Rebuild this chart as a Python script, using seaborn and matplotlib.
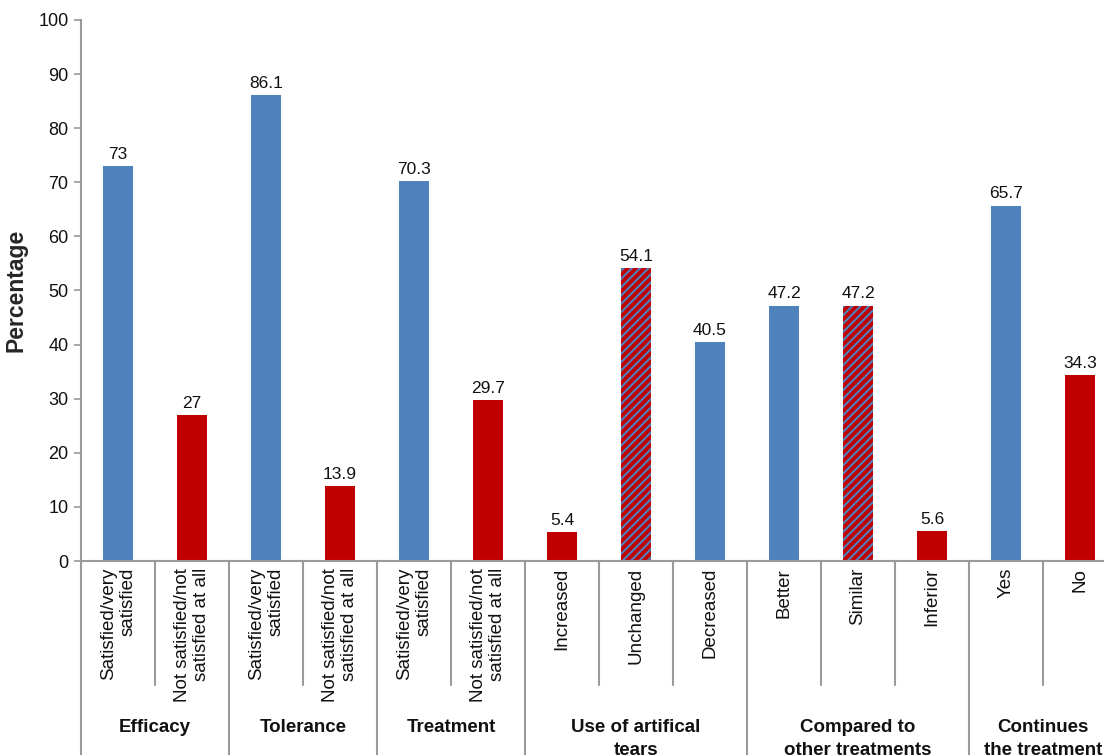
import matplotlib
matplotlib.use("Agg")
import matplotlib.pyplot as plt
import seaborn as sns
import numpy as np
import pandas as pd
from matplotlib.transforms import blended_transform_factory

# ---- data ----
categories = [
    "Satisfied/very\nsatisfied", "Not satisfied/not\nsatisfied at all",
    "Satisfied/very\nsatisfied", "Not satisfied/not\nsatisfied at all",
    "Satisfied/very\nsatisfied", "Not satisfied/not\nsatisfied at all",
    "Increased", "Unchanged", "Decreased",
    "Better", "Similar", "Inferior",
    "Yes", "No",
]
values = [73, 27, 86.1, 13.9, 70.3, 29.7, 5.4, 54.1, 40.5, 47.2, 47.2, 5.6, 65.7, 34.3]
bar_kind = ["pos", "neg", "pos", "neg", "pos", "neg",
            "neg", "mixed", "pos", "pos", "mixed", "neg", "pos", "neg"]
groups = ["Efficacy", "Tolerance", "Treatment", "Use of artifical\ntears",
          "Compared to\nother treatments", "Continues\nthe treatment"]
group_sizes = [2, 2, 2, 3, 3, 2]
yticks = list(range(0, 101, 10))

BLUE = "#4F81BD"
RED = "#C00000"
GRAY = "#9a9a9a"

sns.set_theme(style="white")
plt.rcParams["font.family"] = ["Liberation Sans", "DejaVu Sans"]
plt.rcParams["hatch.linewidth"] = 1.5

fig = plt.figure(figsize=(11.04, 7.55), dpi=100)
W, H = 1104, 755
ax = fig.add_axes([81 / W, 1 - 561 / H, 1036 / W, 541 / H])

df = pd.DataFrame({"pos": list(range(len(values))), "value": values, "kind": bar_kind})
palette = {"pos": BLUE, "neg": RED, "mixed": RED}
sns.barplot(data=df, x="pos", y="value", hue="kind", palette=palette, dodge=False,
            width=0.405, legend=False, saturation=1, ax=ax)

for p in ax.patches:
    idx = int(round(p.get_x() + p.get_width() / 2))
    p.set_linewidth(0)
    if 0 <= idx < len(bar_kind) and bar_kind[idx] == "mixed":
        p.set_hatch("////")
        p.set_edgecolor(BLUE)

for c in ax.containers:
    ax.bar_label(c, fmt="%g", padding=3, fontsize=12.5, color="#111111")

ax.set_xlim(-0.5, len(values) - 0.5)
ax.set_ylim(0, 100)
ax.set_yticks(yticks)
ax.set_xticks(range(len(values)))
ax.set_xticklabels(categories, rotation=90, fontsize=13.5)
for lab in ax.get_xticklabels():
    lab.set_multialignment("right")
ax.set_xlabel("")
ax.set_ylabel("Percentage", fontsize=16.5, fontweight="bold", labelpad=8)

ax.tick_params(axis="x", length=0, pad=5, colors="#111111")
ax.tick_params(axis="y", length=5, width=1.2, color=GRAY, direction="out",
               labelsize=13, pad=4, labelcolor="#111111")
ax.tick_params(axis="y", left=True)

for s in ["top", "right"]:
    ax.spines[s].set_visible(False)
for s in ["left", "bottom"]:
    ax.spines[s].set_color(GRAY)
    ax.spines[s].set_linewidth(1.5)

trans = blended_transform_factory(ax.transData, ax.transAxes)
bounds = np.cumsum([0] + group_sizes)
for b in range(len(values) + 1):
    x = b - 0.5
    if b in bounds:
        ax.plot([x, x], [0, -0.5], transform=trans, clip_on=False, color=GRAY, lw=1.5)
    else:
        ax.plot([x, x], [0, -0.229], transform=trans, clip_on=False, color=GRAY, lw=1.5)

for g, start, size in zip(groups, bounds[:-1], group_sizes):
    center = start + (size - 1) / 2
    ax.text(center, -0.292, g, transform=trans, ha="center", va="top",
            fontsize=13.5, fontweight="bold", linespacing=1.45, color="#111111")

fig.savefig("out.png", dpi=100)
